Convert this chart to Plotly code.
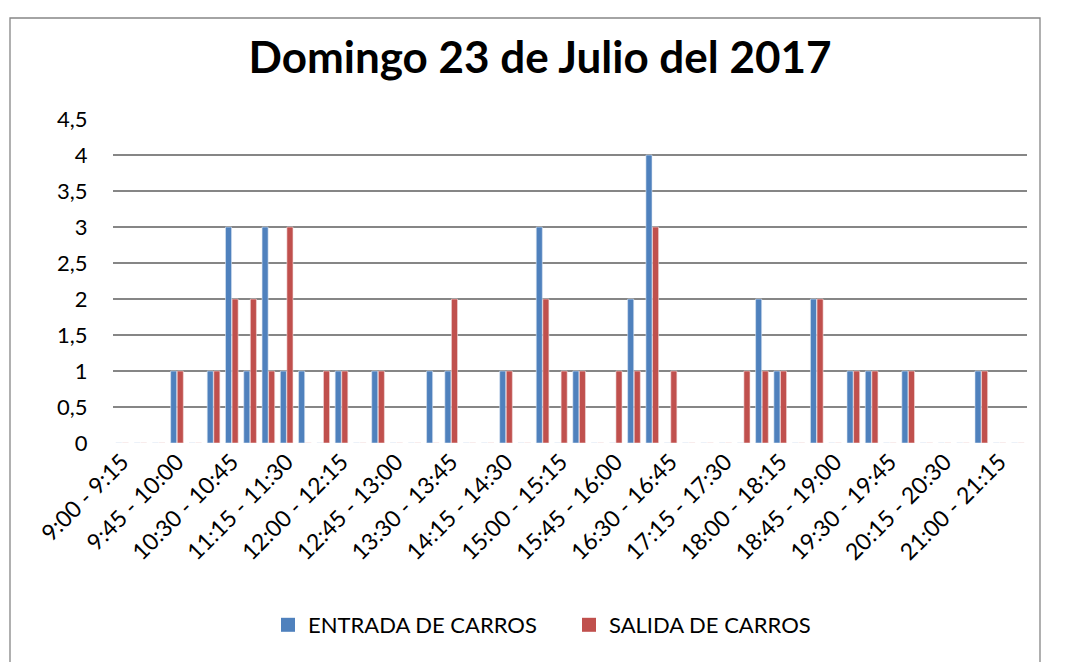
import plotly.graph_objects as go

# 15-minute slots, 9:00 to 21:30
intervalos = [
    "9:00 - 9:15", "9:15 - 9:30", "9:30 - 9:45", "9:45 - 10:00",
    "10:00 - 10:15", "10:15 - 10:30", "10:30 - 10:45", "10:45 - 11:00",
    "11:00 - 11:15", "11:15 - 11:30", "11:30 - 11:45", "11:45 - 12:00",
    "12:00 - 12:15", "12:15 - 12:30", "12:30 - 12:45", "12:45 - 13:00",
    "13:00 - 13:15", "13:15 - 13:30", "13:30 - 13:45", "13:45 - 14:00",
    "14:00 - 14:15", "14:15 - 14:30", "14:30 - 14:45", "14:45 - 15:00",
    "15:00 - 15:15", "15:15 - 15:30", "15:30 - 15:45", "15:45 - 16:00",
    "16:00 - 16:15", "16:15 - 16:30", "16:30 - 16:45", "16:45 - 17:00",
    "17:00 - 17:15", "17:15 - 17:30", "17:30 - 17:45", "17:45 - 18:00",
    "18:00 - 18:15", "18:15 - 18:30", "18:30 - 18:45", "18:45 - 19:00",
    "19:00 - 19:15", "19:15 - 19:30", "19:30 - 19:45", "19:45 - 20:00",
    "20:00 - 20:15", "20:15 - 20:30", "20:30 - 20:45", "20:45 - 21:00",
    "21:00 - 21:15", "21:15 - 21:30",
]

entrada = [0, 0, 0, 1, 0, 1, 3, 1, 3, 1,
           1, 0, 1, 0, 1, 0, 0, 1, 1, 0,
           0, 1, 0, 3, 0, 1, 0, 0, 2, 4,
           0, 0, 0, 0, 0, 2, 1, 0, 2, 0,
           1, 1, 0, 1, 0, 0, 0, 1, 0, 0]

salida = [0, 0, 0, 1, 0, 1, 2, 2, 1, 3,
          0, 1, 1, 0, 1, 0, 0, 0, 2, 0,
          0, 1, 0, 2, 1, 1, 0, 1, 1, 3,
          1, 0, 0, 0, 1, 1, 1, 0, 2, 0,
          1, 1, 0, 1, 0, 0, 0, 1, 0, 0]

# Excel only labels every third slot
etiquetas = intervalos[::3]

series = [("ENTRADA DE CARROS", entrada, "#4F81BD", "#dce6f2"),
          ("SALIDA DE CARROS", salida, "#C0504D", "#f2dcdb")]

fuente = "Lato"

# the page puts the figure 8px in from the corner, margins account for it
ml, mr, mt, mb = 105, 46, 111, 227
ancho_plot = 1065 - ml - mr
alto_plot = 662 - mt - mb

fig = go.Figure()
for nombre, valores, color, borde in series:
    fig.add_trace(go.Bar(x=intervalos, y=valores, name=nombre, showlegend=False,
                         marker=dict(color=color, line=dict(color=borde, width=0.6))))
# square legend keys like Excel's
for nombre, valores, color, borde in series:
    fig.add_trace(go.Scatter(x=[None], y=[None], mode="markers", name=nombre,
                             marker=dict(symbol="square", size=14, color=color,
                                         line=dict(width=0))))

fig.update_layout(
    width=1065, height=662,
    margin=dict(l=ml, r=mr, t=mt, b=mb),
    paper_bgcolor="white", plot_bgcolor="white",
    separators=", ",
    barmode="group", bargap=0.28, bargroupgap=0.08,
    font=dict(family=fuente, size=18, color="black"),
    title=dict(text="<b>Domingo 23 de Julio del 2017</b>", x=(540 - 8) / 1065, xanchor="center",
               y=1 - 50 / 662, yanchor="middle",
               font=dict(family=fuente, size=44, color="black")),
    legend=dict(orientation="h", x=(268 - 8 - ml) / ancho_plot, xanchor="left",
                y=(alto_plot - (617 - mt)) / alto_plot, yanchor="middle",
                font=dict(family=fuente, size=22), itemwidth=30,
                entrywidth=256, entrywidthmode="pixels", traceorder="normal"),
    showlegend=True,
)

fig.update_xaxes(type="category", categoryorder="array", categoryarray=intervalos,
                 tickmode="array", tickvals=etiquetas, ticktext=etiquetas,
                 tickangle=-45, tickfont=dict(family=fuente, size=23),
                 showgrid=False, zeroline=False, showline=False, ticks="")

fig.update_yaxes(range=[0, 4.5], dtick=0.5, tick0=0, tickformat=".1~f",
                 showgrid=True, gridcolor="#868686", gridwidth=1.5,
                 zeroline=False, showline=False,
                 ticks="outside", ticklen=20, tickcolor="rgba(0,0,0,0)",
                 tickfont=dict(family=fuente, size=22))

# outer chart border, cut by the page edge at the bottom
fig.add_shape(type="rect", xref="paper", yref="paper",
              x0=(2 - ml) / ancho_plot, x1=(1032 - ml) / ancho_plot,
              y0=(alto_plot - (700 - mt)) / alto_plot, y1=(alto_plot - (10 - mt)) / alto_plot,
              line=dict(color="#868686", width=1.3), fillcolor="rgba(0,0,0,0)",
              layer="below")

fig.write_html("out.html")
